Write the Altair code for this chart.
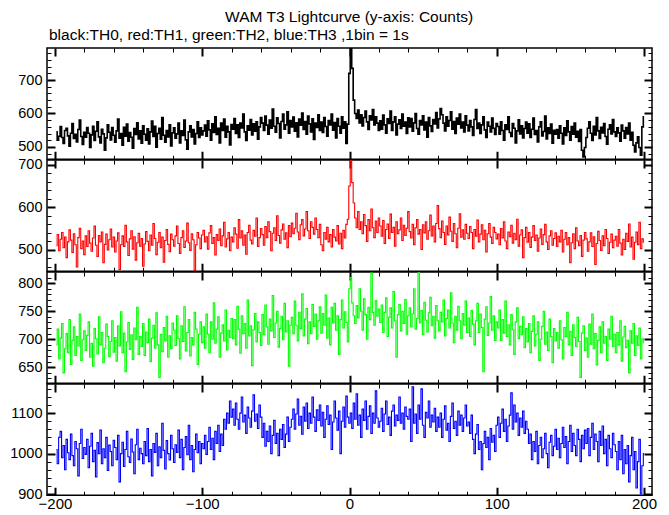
import altair as alt
import pandas as pd

# time bins (1 s), centre of each bin
TIME = list(range(-199, 201))

# TH0 (black) counts per 1-s bin
TH0 = [
    545, 520, 532, 561, 528, 510, 549, 556, 533, 502, 541, 570, 525, 538, 515, 552, 580, 531, 507, 544,
    529, 558, 541, 498, 536, 562, 519, 547, 575, 530, 512, 553, 539, 490, 527, 566, 544, 521, 558, 535,
    514, 548, 583, 526, 540, 505, 559, 532, 568, 517, 543, 529, 496, 555, 537, 572, 524, 548, 511, 563,
    538, 520, 554, 509, 545, 577, 531, 562, 499, 540, 556, 523, 588, 535, 514, 549, 530, 566, 503, 542,
    557, 526, 539, 571, 512, 548, 534, 580, 521, 493, 545, 563, 530, 552, 509, 540, 575, 528, 557, 536,
    548, 565, 532, 578, 551, 520, 569, 543, 590, 537, 556, 512, 571, 549, 583, 529, 562, 545, 506, 567,
    553, 585, 540, 566, 528, 571, 557, 598, 545, 519, 563, 550, 582, 536, 569, 547, 575, 523, 560, 588,
    571, 549, 592, 565, 538, 580, 556, 613, 562, 544, 587, 570, 527, 576, 598, 553, 566, 605, 541, 579,
    560, 589, 547, 572, 530, 583, 565, 601, 552, 576, 538, 592, 569, 545, 584, 522, 571, 558, 596, 549,
    574, 543, 588, 561, 532, 579, 566, 598, 550, 573, 527, 585, 562, 541, 590, 556, 575, 510, 568, 720,
    805, 735, 640, 600, 585, 610, 572, 596, 563, 588, 607, 575, 552, 593, 581, 612, 566, 590, 571, 549,
    578, 553, 595, 566, 541, 584, 570, 607, 549, 575, 590, 536, 568, 581, 555, 598, 562, 574, 540, 587,
    560, 585, 547, 572, 600, 555, 538, 579, 566, 593, 551, 574, 529, 588, 563, 546, 582, 569, 603, 557,
    584, 615, 596, 571, 548, 590, 562, 579, 605, 553, 576, 540, 586, 568, 598, 557, 574, 545, 593, 565,
    548, 579, 560, 534, 582, 612, 555, 571, 540, 566, 590, 551, 528, 574, 562, 545, 586, 556, 537, 570,
    561, 538, 575, 549, 520, 566, 552, 590, 543, 531, 570, 556, 512, 548, 581, 539, 563, 527, 555, 574,
    541, 569, 528, 553, 586, 537, 549, 515, 560, 575, 533, 546, 592, 524, 557, 540, 568, 511, 550, 538,
    552, 526, 563, 541, 509, 557, 534, 578, 545, 520, 561, 538, 571, 529, 547, 516, 552, 490, 470, 498,
    528, 556, 575, 541, 519, 562, 536, 588, 548, 525, 559, 542, 570, 531, 508, 553, 566, 539, 582, 545,
    531, 557, 542, 517, 565, 548, 526, 558, 539, 571, 520, 544, 505, 485, 512, 530, 498, 475, 560, 590,
]

# TH1 (red)
TH1 = [
    510, 536, 498, 525, 541, 505, 530, 482, 519, 547, 523, 494, 538, 512, 460, 529, 551, 503, 521, 489,
    533, 508, 545, 516, 497, 528, 556, 511, 485, 534, 519, 542, 470, 513, 537, 500, 524, 549, 507, 530,
    495, 521, 540, 454, 512, 533, 508, 558, 519, 487, 526, 545, 502, 531, 476, 517, 539, 509, 527, 462,
    514, 543, 520, 498, 535, 511, 562, 527, 489, 518, 541, 505, 530, 471, 522, 548, 513, 496, 537, 524,
    509, 533, 556, 515, 492, 529, 545, 506, 521, 563, 517, 499, 538, 524, 452, 512, 541, 528, 503, 535,
    546, 519, 531, 502, 540, 557, 515, 529, 488, 536, 522, 549, 510, 533, 565, 507, 526, 541, 498, 530,
    519, 552, 537, 504, 571, 528, 545, 511, 535, 490, 541, 558, 523, 514, 546, 532, 575, 508, 529, 550,
    536, 511, 555, 529, 566, 543, 498, 539, 552, 522, 580, 534, 516, 547, 561, 525, 540, 505, 557, 531,
    563, 538, 551, 586, 542, 524, 559, 571, 533, 549, 590, 545, 527, 566, 553, 537, 575, 548, 529, 560,
    512, 498, 541, 525, 553, 519, 536, 507, 548, 530, 521, 557, 514, 539, 503, 546, 528, 560, 572, 650,
    720, 658, 610, 575, 552, 590, 548, 566, 538, 583, 557, 520, 571, 545, 596, 552, 529, 568, 541, 575,
    556, 532, 569, 515, 548, 561, 527, 584, 541, 553, 509, 566, 538, 547, 575, 522, 558, 534, 551, 590,
    543, 528, 560, 512, 552, 571, 537, 548, 501, 559, 540, 566, 525, 545, 582, 533, 556, 519, 562, 604,
    550, 529, 568, 541, 513, 556, 535, 577, 544, 520, 562, 538, 505, 551, 585, 530, 547, 525, 560, 539,
    527, 555, 541, 503, 548, 532, 570, 519, 537, 559, 524, 546, 495, 538, 562, 530, 515, 553, 541, 526,
    537, 512, 550, 528, 566, 521, 503, 542, 531, 558, 516, 539, 524, 572, 509, 535, 547, 482, 529, 553,
    518, 541, 506, 530, 557, 522, 535, 497, 528, 549, 513, 536, 560, 519, 501, 533, 545, 511, 527, 540,
    508, 532, 519, 546, 495, 525, 541, 512, 529, 470, 517, 538, 503, 552, 521, 510, 534, 485, 523, 541,
    526, 497, 519, 540, 508, 531, 466, 515, 544, 522, 499, 533, 510, 548, 527, 492, 518, 537, 505, 523,
    532, 509, 548, 516, 488, 525, 501, 539, 520, 561, 507, 530, 478, 518, 542, 512, 565, 503, 526, 518,
]

# TH2 (green)
TH2 = [
    690, 718, 665, 702, 728, 640, 683, 710, 676, 735, 655, 698, 722, 671, 705, 688, 745, 662, 699, 715,
    680, 707, 731, 668, 693, 652, 719, 701, 674, 740, 690, 712, 658, 684, 727, 705, 669, 696, 733, 677,
    703, 661, 724, 688, 749, 676, 711, 642, 695, 730, 682, 708, 664, 720, 699, 757, 673, 705, 687, 728,
    671, 713, 694, 736, 660, 702, 725, 684, 747, 690, 632, 709, 678, 721, 697, 741, 668, 706, 683, 729,
    716, 689, 742, 701, 665, 724, 696, 758, 679, 712, 735, 670, 703, 690, 748, 718, 655, 709, 731, 694,
    722, 684, 745, 709, 676, 731, 700, 765, 693, 718, 740, 668, 711, 726, 697, 752, 681, 716, 703, 737,
    701, 735, 690, 759, 718, 675, 742, 710, 728, 684, 770, 706, 724, 653, 717, 746, 695, 731, 712, 689,
    744, 708, 761, 722, 691, 736, 715, 778, 703, 729, 750, 686, 719, 741, 699, 764, 713, 733, 652, 725,
    739, 710, 768, 725, 697, 748, 719, 781, 706, 736, 755, 692, 731, 710, 762, 723, 745, 700, 733, 758,
    711, 746, 725, 779, 702, 738, 690, 757, 729, 764, 716, 742, 673, 735, 770, 720, 749, 730, 695, 790,
    810, 765, 742, 728, 760, 738, 790, 750, 716, 772, 744, 700, 757, 735, 818, 748, 725, 769, 741, 754,
    730, 761, 712, 748, 774, 705, 739, 756, 720, 785, 733, 668, 744, 762, 715, 750, 728, 771, 709, 742,
    756, 722, 745, 790, 718, 737, 820, 729, 751, 708, 766, 734, 713, 747, 775, 724, 741, 702, 760, 733,
    715, 748, 731, 770, 706, 737, 752, 720, 783, 729, 694, 741, 716, 759, 733, 701, 746, 725, 768, 712,
    738, 705, 751, 727, 690, 733, 764, 712, 745, 721, 642, 736, 758, 707, 729, 776, 716, 742, 698, 731,
    720, 752, 698, 735, 711, 768, 705, 726, 690, 744, 717, 673, 731, 756, 701, 723, 708, 740, 685, 719,
    695, 728, 676, 714, 742, 688, 709, 731, 662, 700, 723, 750, 691, 713, 680, 736, 705, 658, 719, 697,
    712, 684, 733, 699, 665, 721, 705, 748, 690, 714, 671, 726, 703, 687, 739, 696, 632, 711, 724, 680,
    702, 668, 727, 691, 745, 683, 710, 654, 698, 722, 676, 731, 693, 705, 662, 718, 700, 741, 687, 709,
    676, 712, 690, 733, 661, 704, 723, 685, 698, 640, 715, 693, 728, 671, 706, 689, 720, 665, 701, 694,
]

# TH3 (blue)
TH3 = [
    1010, 975, 1040, 1055, 990, 1020, 960, 1035, 1002, 985, 1048, 995, 970, 1030, 1012, 945, 1025, 1060, 988, 1015,
    998, 1035, 965, 1018, 1050, 980, 1008, 942, 1027, 1000, 1058, 975, 1012, 990, 1040, 958, 1021, 1005, 970, 1033,
    1015, 985, 1045, 930, 1000, 1028, 968, 1010, 1055, 992, 978, 1036, 1004, 950, 1022, 1060, 985, 1013, 1000, 975,
    1030, 995, 1062, 980, 1010, 945, 1025, 1003, 1050, 970, 1017, 990, 1075, 1008, 962, 1032, 1000, 984, 1045, 1012,
    978, 1022, 1003, 1058, 990, 1035, 960, 1015, 1042, 997, 1070, 985, 1020, 955, 1010, 1048, 1002, 1030, 975, 1025,
    1012, 1045, 998, 1030, 1065, 1010, 1038, 985, 1055, 1025, 1070, 1005, 1048, 1020, 1085, 1060, 1100, 1075, 1130, 1090,
    1110, 1070, 1125, 1085, 1060, 1100, 1140, 1078, 1095, 1050, 1115, 1088, 1065, 1105, 1145, 1080, 1098, 1062, 1120, 1090,
    1040, 1075, 1018, 1055, 1030, 1068, 1000, 1045, 1082, 1025, 1050, 995, 1060, 1035, 1072, 1015, 1048, 1090, 1030, 1065,
    1085, 1110, 1060, 1098, 1135, 1070, 1092, 1048, 1115, 1080, 1125, 1062, 1100, 1075, 1140, 1090, 1055, 1108, 1082, 1120,
    1068, 1102, 1040, 1085, 1118, 1072, 1095, 1010, 1078, 1130, 1088, 1058, 1105, 1000, 1080, 1115, 1065, 1142, 1090, 1075,
    1100, 1062, 1125, 1085, 1148, 1070, 1095, 1040, 1110, 1082, 1130, 1060, 1092, 1118, 1050, 1100, 1075, 1155, 1088, 1065,
    1080, 1112, 1055, 1098, 1130, 1072, 1090, 1045, 1105, 1120, 1068, 1095, 1082, 1140, 1075, 1100, 1060, 1115, 1092, 1085,
    1110, 1030, 1165, 1075, 1098, 1050, 1120, 1085, 1160, 1070, 1040, 1102, 1088, 1130, 1065, 1095, 1078, 1112, 1055, 1090,
    1065, 1100, 1040, 1085, 1118, 1058, 1075, 1030, 1092, 1125, 1062, 1080, 1045, 1105, 1070, 1095, 1055, 1088, 1120, 1068,
    1078, 1050, 1095, 1035, 1000, 1048, 1072, 1010, 1030, 960, 1025, 1055, 1015, 1040, 985, 1062, 1028, 1045, 1005, 1070,
    1090, 1040, 1075, 1110, 1055, 1085, 1030, 1068, 1095, 1150, 1060, 1120, 1078, 1100, 1045, 1088, 1065, 1105, 1050, 1080,
    1060, 1025, 1048, 985, 1030, 1005, 1055, 975, 1020, 1040, 990, 1012, 1050, 1000, 965, 1028, 1045, 995, 1018, 1060,
    1010, 1038, 990, 1025, 1065, 1015, 1042, 975, 1030, 1070, 1005, 1050, 1020, 995, 1060, 1035, 980, 1045, 1012, 1058,
    1025, 1062, 995, 1040, 1075, 1010, 1048, 1030, 980, 1055, 1020, 1068, 1000, 1035, 970, 1045, 1012, 990, 1050, 1022,
    1005, 960, 1030, 985, 1045, 950, 1010, 975, 1020, 930, 995, 1040, 960, 1005, 915, 980, 1035, 900, 970, 1000,
]

X_DOMAIN = [-205.4, 205.4]
X_MAJOR = [-200, -100, 0, 100, 200]
X_MINOR = [-180, -160, -140, -120, -80, -60, -40, -20, 20, 40, 60, 80, 120, 140, 160, 180]

PANELS = [
    # values, colour, line width, y-domain, major ticks, minor ticks
    (TH0, "#000000", 1.6, [463, 796], [500, 600, 700],
     [480, 520, 540, 560, 580, 620, 640, 660, 680, 720, 740, 760, 780]),
    (TH1, "#ff0000", 1.1, [450, 711], [500, 600, 700],
     [460, 480, 520, 540, 560, 580, 620, 640, 660, 680]),
    (TH2, "#00ff00", 1.1, [621.5, 820], [650, 700, 750, 800],
     [630, 640, 660, 670, 680, 690, 710, 720, 730, 740, 760, 770, 780, 790, 810]),
    (TH3, "#0000ff", 1.1, [897, 1172], [900, 1000, 1100],
     [920, 940, 960, 980, 1020, 1040, 1060, 1080, 1120, 1140, 1160]),
]

FONT = "Liberation Sans"
W, H = 605, 111.25


def axis(orient, values, size, width, labels=False, pad=0, fs=14.5):
    kw = dict(
        orient=orient, values=values, tickSize={"expr": str(-size)}, tickWidth=width,
        tickColor="black", domain=False, grid=False, title=None, labels=labels,
        labelFlush=False, labelOverlap=False, format="d",
    )
    if labels:
        kw["labelPadding"] = pad
        kw["labelFontSize"] = fs
    return alt.Axis(**kw)


def panel(vals, color, lw, ydom, ymaj, ymin, xlabels, title=None):
    df = pd.DataFrame({"t": TIME, "c": vals})
    xs = alt.Scale(domain=X_DOMAIN, nice=False, zero=False)
    ys = alt.Scale(domain=ydom, nice=False, zero=False)

    def lay(xa, ya, visible):
        return alt.Chart(df).mark_line(
            interpolate="step", color=color, strokeWidth=lw, clip=True,
            strokeOpacity=1 if visible else 0,
        ).encode(
            x=alt.X("t:Q", scale=xs, axis=xa),
            y=alt.Y("c:Q", scale=ys, axis=ya),
        )

    layers = [
        lay(axis("bottom", X_MINOR, 4, 1), axis("left", ymin, 4, 1), False),
        lay(axis("top", X_MAJOR, 8, 2), axis("right", ymaj, 8, 2), False),
        lay(axis("top", X_MINOR, 4, 1), axis("right", ymin, 4, 1), False),
        lay(axis("bottom", X_MAJOR, 8, 2, labels=xlabels, pad=9, fs=15),
            axis("left", ymaj, 8, 2, labels=True, pad=13, fs=14.5), True),
    ]
    ch = alt.layer(*layers).resolve_axis(x="independent", y="independent").properties(width=W, height=H)
    if title is not None:
        ch = ch.properties(title=title)
    return ch


charts = []
for i, (vals, col, lw, ydom, ymaj, ymin) in enumerate(PANELS):
    t = None
    if i == 0:
        t = alt.Title("black:TH0, red:TH1, green:TH2, blue:TH3 ,1bin = 1s", anchor="start",
                      frame="group", dx=2, offset=4, font=FONT, fontSize=15.5,
                      fontWeight="normal", color="black")
    charts.append(panel(vals, col, lw, ydom, ymaj, ymin, i == 3, t))

chart = alt.vconcat(
    *charts, spacing=0, bounds="flush",
    title=alt.Title("WAM T3 Lightcurve (y-axis: Counts)", anchor="middle", font=FONT,
                    fontSize=15.5, fontWeight="normal", color="black", offset=1, dx=16),
).properties(
    padding={"left": 0, "top": 2, "right": 2, "bottom": 13},
).configure_view(
    stroke="black", strokeWidth=1.5,
).configure_axis(
    labelFont=FONT, labelColor="black",
)

chart.save("out.html", embed_options={"renderer": "svg", "actions": False})
